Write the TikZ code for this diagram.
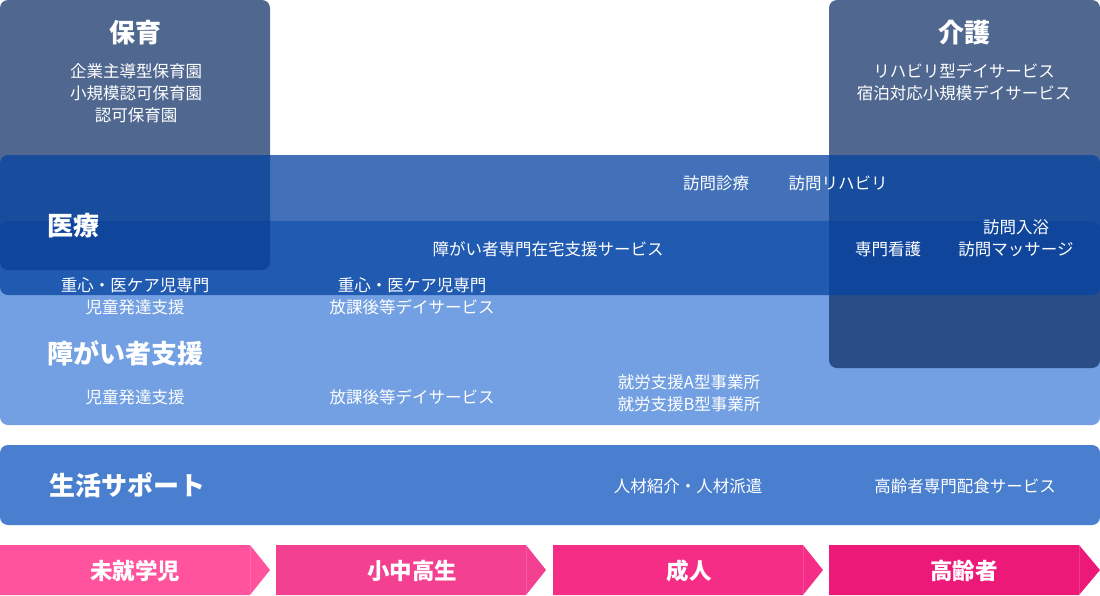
\documentclass[tikz,border=0pt]{standalone}
\usepackage{fontspec}
\setmainfont{Noto Sans CJK JP}
\usepackage{xcolor}
\usepackage{tikz}

\definecolor{shogaiblue}{RGB}{114,160,226}
\definecolor{boxslate}{RGB}{12,45,101}
\definecolor{iryoblue}{RGB}{8,69,163}
\definecolor{seikatsublue}{RGB}{73,127,206}
\definecolor{agepinkA}{RGB}{255,83,158}
\definecolor{agepinkB}{RGB}{244,64,145}
\definecolor{agepinkC}{RGB}{245,45,135}
\definecolor{agepinkD}{RGB}{237,25,121}

\begin{document}
\begin{tikzpicture}[x = 1pt, y = -1pt,
    headtext/.style = {text = white, inner sep = 0pt, font = \fontsize{26}{30}\selectfont\bfseries},
    itemtext/.style = {text = white, inner sep = 0pt, align = center, font = \fontsize{16.5}{22}\selectfont},
    agetext/.style = {text = white, inner sep = 0pt, font = \fontsize{22.5}{26}\selectfont\bfseries}]
    \useasboundingbox (0, 0) rectangle (1100, 595);
    
    % Bands
    \fill[fill = shogaiblue, rounded corners = 8pt] (0, 221) rectangle (1100, 425);
    %
    \fill[fill = boxslate, fill opacity = 0.72, rounded corners = 8pt] (0, 0) rectangle (270, 270);
    %
    \fill[fill = boxslate, fill opacity = 0.72, rounded corners = 8pt] (829, 0) rectangle (1100, 368);
    %
    \fill[fill = iryoblue, fill opacity = 0.765, rounded corners = 8pt] (0, 155) rectangle (1100, 295);
    
    \fill[fill = seikatsublue, rounded corners = 8pt] (0, 445) rectangle (1100, 525);
    
    % Age arrows
    \fill[fill = agepinkA] (0, 545) -- (250, 545) -- (270, 570) -- (250, 595) -- (0, 595) -- cycle;
    %
    \fill[fill = agepinkB] (276, 545) -- (526, 545) -- (546, 570) -- (526, 595) -- (276, 595) -- cycle;
    %
    \fill[fill = agepinkC] (553, 545) -- (803, 545) -- (823, 570) -- (803, 595) -- (553, 595) -- cycle;
    %
    \fill[fill = agepinkD] (829, 545) -- (1079, 545) -- (1100, 570) -- (1079, 595) -- (829, 595) -- cycle;
    
    \foreach \sx in {250, 526, 803, 1079}
        \draw[white, opacity = 0.15, line width = 0.6pt] (\sx, 545) -- (\sx, 595);
    
    % Titles
    \node[headtext] (hoiku) at (135, 33) {保育};
    %
    \node[headtext] (kaigo) at (964, 33) {介護};
    %
    \node[headtext, anchor = west] (iryo) at (47, 226) {医療};
    %
    \node[headtext, anchor = west] (shogai) at (47, 353) {障がい者支援};
    %
    \node[headtext, anchor = west] (seikatsu) at (49, 485) {生活サポート};
    
    % Services
    \node[itemtext] (hoikuList) at (136, 93) {企業主導型保育園\\小規模認可保育園\\認可保育園};
    %
    \node[itemtext] (kaigoList) at (964, 82) {リハビリ型デイサービス\\宿泊対応小規模デイサービス};
    
    \node[itemtext] (houmonShinryo) at (716, 183) {訪問診療};
    %
    \node[itemtext] (houmonReha) at (838, 183) {訪問リハビリ};
    
    \node[itemtext] (zaitaku) at (548, 249) {障がい者専門在宅支援サービス};
    %
    \node[itemtext] (kango) at (888, 249) {専門看護};
    %
    \node[itemtext] (nyuyoku) at (1016, 238) {訪問入浴\\訪問マッサージ};
    
    \node[itemtext] (juushinA) at (135, 296) {重心・医ケア児専門\\児童発達支援};
    %
    \node[itemtext] (juushinB) at (412, 296) {重心・医ケア児専門\\放課後等デイサービス};
    
    \node[itemtext] (jidou) at (135, 397) {児童発達支援};
    %
    \node[itemtext] (houkago) at (412, 397) {放課後等デイサービス};
    %
    \node[itemtext] (shurou) at (689, 393) {就労支援A型事業所\\就労支援B型事業所};
    
    \node[itemtext] (jinzai) at (688, 486) {人材紹介・人材派遣};
    %
    \node[itemtext] (haishoku) at (965, 486) {高齢者専門配食サービス};
    
    % Ages
    \node[agetext] (mishuugaku) at (135, 571) {未就学児};
    %
    \node[agetext] (shouchuukou) at (412, 571) {小中高生};
    %
    \node[agetext] (seijin) at (689, 571) {成人};
    %
    \node[agetext] (koureisha) at (964, 571) {高齢者};
\end{tikzpicture}
\end{document}
